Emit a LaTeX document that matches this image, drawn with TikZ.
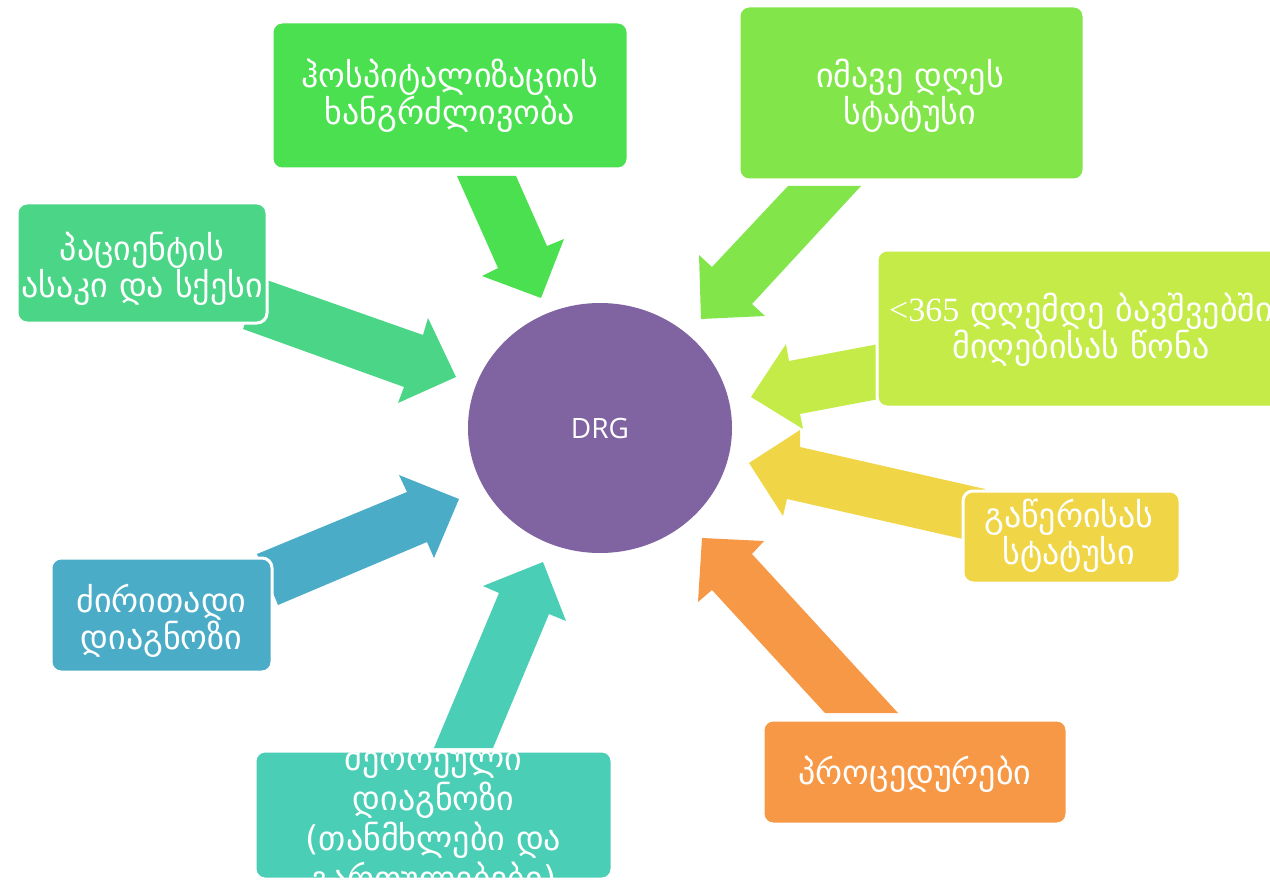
\documentclass[tikz,border=0pt]{standalone}
\usepackage{fontspec}
\usetikzlibrary{shapes.geometric}
\setmainfont{DejaVu Sans}
\newfontfamily\latinserif{Liberation Serif}
\newfontfamily\drgfont{Open Sans}
\definecolor{cA}{HTML}{4AE04F}
\definecolor{cB}{HTML}{82E64A}
\definecolor{cC}{HTML}{4BD687}
\definecolor{cD}{HTML}{C4EB48}
\definecolor{cE}{HTML}{F0D647}
\definecolor{cF}{HTML}{4AACC6}
\definecolor{cG}{HTML}{4ACEB5}
\definecolor{cH}{HTML}{F79846}
\definecolor{cI}{HTML}{8064A2}
\begin{document}
\begin{tikzpicture}[x=1pt,y=-1pt,
  box/.style={draw=white, line width=3pt, rounded corners=10pt, rectangle, inner sep=0pt},
  lbl/.style={text=white, font=\fontsize{34}{37}\selectfont, align=center, inner sep=0pt}]
\useasboundingbox (0,0) rectangle (1270,880);
\clip (0,0) rectangle (1270,880);
% block arrows
\fill[cA] (457,176) -- (516,176) -- (547,246) -- (564,239) -- (541,298) -- (482,276) -- (498,268) -- cycle;
\fill[cB] (788,186) -- (861,186) -- (752,304) -- (765,316) -- (701,319) -- (699,255) -- (712,267) -- cycle;
\fill[cC] (261,278) -- (423,335) -- (428,318) -- (456,377) -- (398,403) -- (404,387) -- (243,329) -- cycle;
\fill[cF] (257,554) -- (407,492) -- (399,475) -- (459,499) -- (434,558) -- (427,542) -- (278,605) -- cycle;
\fill[cG] (434,748) -- (499,593) -- (483,586) -- (543,562) -- (566,621) -- (549,614) -- (493,748) -- cycle;
\fill[cH] (825,713) -- (712,590) -- (698,602) -- (702,538) -- (764,541) -- (752,554) -- (898,713) -- cycle;
\fill[cE] (985,489) -- (800,447) -- (800,430) -- (749,463) -- (783,516) -- (787,499) -- (985,544) -- cycle;
\fill[cD] (900,340) -- (789,361) -- (786,344) -- (751,397) -- (803,429) -- (800,414) -- (900,395) -- cycle;
% center
\node[ellipse, fill=cI, minimum width=264pt, minimum height=250pt, inner sep=0pt] (drg) at (600,428) {};
\node[text=white, font=\drgfont\fontsize{28}{30}\selectfont] (drgt) at (600,428) {DRG};
% boxes
\node[box, fill=cA, minimum width=356pt, minimum height=147pt] (b1) at (450,95.5) {};
\node[box, fill=cB, minimum width=345pt, minimum height=174pt] (b2) at (911.5,93) {};
\node[box, fill=cC, minimum width=250pt, minimum height=120pt] (b3) at (142,263) {};
\node[box, fill=cD, minimum width=408pt, minimum height=157pt] (b4) at (1081,328.5) {};
\node[box, fill=cE, minimum width=217pt, minimum height=92pt] (b5) at (1071.5,537) {};
\node[box, fill=cF, minimum width=221pt, minimum height=114pt] (b6) at (161.5,615) {};
\node[box, fill=cG, minimum width=357pt, minimum height=128pt] (b7) at (433.5,815) {};
\node[box, fill=cH, minimum width=304pt, minimum height=104pt] (b8) at (915,772) {};
% labels
\node[lbl] (t1) at (450,96) {ჰოსპიტალიზაციის\\ხანგრძლივობა};
\node[lbl] (t2) at (910,96) {იმავე დღეს\\სტატუსი};
\node[lbl] (t3) at (142,269) {პაციენტის\\ასაკი და სქესი};
\node[lbl] (t4) at (1081,330) {{\latinserif <365} დღემდე ბავშვებში\\მიღებისას წონა};
\node[lbl] (t5) at (1069,536) {გაწერისას\\სტატუსი};
\node[lbl] (t6) at (161.5,621) {ძირითადი\\დიაგნოზი};
\node[lbl, font=\fontsize{34}{40}\selectfont] (t7) at (433.5,820) {მეორეული\\დიაგნოზი\\(თანმხლები და\\გართულებები)};
\node[lbl] (t8) at (915,774) {პროცედურები};
\end{tikzpicture}
\end{document}
